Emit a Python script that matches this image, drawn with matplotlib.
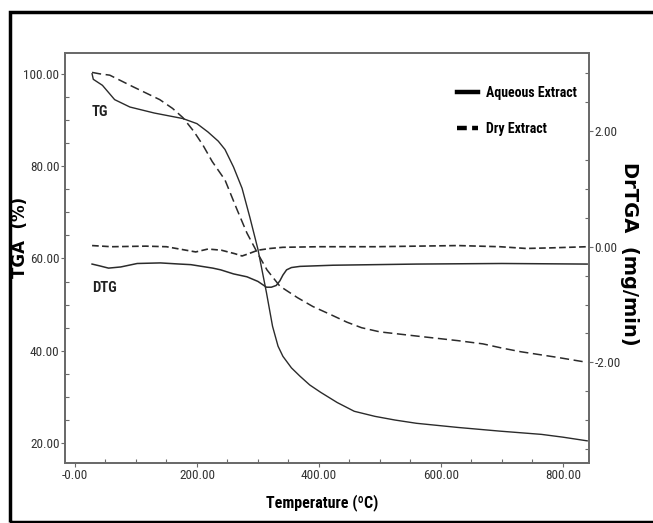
import matplotlib
matplotlib.use('Agg')
import matplotlib.pyplot as plt
import matplotlib.font_manager as fm
from matplotlib.lines import Line2D
from matplotlib.patches import Rectangle
from matplotlib.ticker import MultipleLocator

# TG curves (left axis, %)
tg_aq_temp = [28, 30, 45, 65, 90, 130, 177, 200, 218, 235, 246, 260, 274, 287, 300,
              314, 324, 333, 341, 355, 369, 385, 403, 430, 458, 492, 525, 560, 628,
              697, 765, 800, 840]
tg_aq_mass = [100.0, 98.8, 97.5, 94.4, 92.8, 91.5, 90.3, 89.2, 87.4, 85.4, 83.6, 79.8,
              75.2, 68.8, 62.0, 52.6, 45.3, 41.0, 38.8, 36.3, 34.5, 32.6, 31.0, 28.8,
              26.9, 25.8, 25.0, 24.3, 23.4, 22.6, 21.9, 21.3, 20.5]

tg_dry_temp = [28, 40, 57, 95, 139, 160, 177, 195, 210, 225, 246, 266, 282, 292, 300, 315,
               336, 365, 390, 420, 446, 470, 500, 560, 628, 669, 700, 731, 790, 840]
tg_dry_mass = [100.3, 100.0, 99.7, 97.2, 94.4, 92.5, 90.5, 87.5, 84.5, 81.0, 77.0, 70.5,
               65.5, 63.0, 61.0, 57.5, 54.0, 51.5, 49.6, 47.8, 46.2, 45.0, 44.1, 43.2, 42.2,
               41.5, 40.6, 39.8, 38.6, 37.5]

# DTG curves (right axis, mg/min)
dtg_aq_temp = [28, 40, 55, 75, 102, 140, 172, 190, 226, 239, 260, 282, 300, 314, 322, 330,
               336, 341, 347, 355, 369, 423, 560, 700, 840]
dtg_aq_rate = [-0.30, -0.33, -0.37, -0.35, -0.29, -0.28, -0.30, -0.31, -0.37, -0.40, -0.47,
               -0.52, -0.60, -0.70, -0.70, -0.67, -0.59, -0.49, -0.40, -0.36, -0.34, -0.32,
               -0.30, -0.29, -0.30]

dtg_dry_temp = [28, 60, 116, 150, 198, 218, 240, 262, 274, 285, 300, 320, 341, 400, 492,
                560, 628, 697, 740, 780, 840]
dtg_dry_rate = [0.02, 0.0, 0.01, 0.0, -0.09, -0.04, -0.06, -0.12, -0.16, -0.12, -0.06, -0.03,
                -0.01, 0.0, 0.0, 0.01, 0.02, 0.0, -0.03, -0.02, 0.0]

x_ticks = [0, 200, 400, 600, 800]
x_labels = ['-0.00', '200.00', '400.00', '600.00', '800.00']
left_ticks = [20, 40, 60, 80, 100]
left_labels = ['20.00', '40.00', '60.00', '80.00', '100.00']
right_ticks = [-2, 0, 2]
right_labels = ['-2.00', '0.00', '2.00']


# pick a narrow font if one is installed, else fall back to Liberation Sans
def narrow_font():
    fonts = fm.fontManager.ttflist
    for want in ['Liberation Sans Narrow', 'Roboto Condensed', 'Open Sans Condensed',
                 'Noto Sans Condensed']:
        if any(f.name == want for f in fonts):
            return {'family': want}, 1.0
    for f in fonts:
        if f.name in ('DejaVu Sans', 'Noto Sans', 'Open Sans', 'Roboto') and 'ondensed' in str(f.stretch):
            return {'family': f.name, 'stretch': 'condensed'}, 1.0
    return {'family': 'Liberation Sans'}, 0.92


NARROW, SC = narrow_font()
LINE_C = '#2b2b2b'
SPINE_C = '#6a6a6a'

fig = plt.figure(figsize=(6.53, 5.23), dpi=100)
ax = fig.add_axes([65 / 653, 60 / 523, 524 / 653, 410 / 523])
ax2 = ax.twinx()

ax.plot(tg_aq_temp, tg_aq_mass, color=LINE_C, lw=1.0)
ax.plot(tg_dry_temp, tg_dry_mass, color=LINE_C, lw=1.1, linestyle=(0, (6, 3)))
ax2.plot(dtg_aq_temp, dtg_aq_rate, color=LINE_C, lw=1.1)
ax2.plot(dtg_dry_temp, dtg_dry_rate, color=LINE_C, lw=1.2, linestyle=(0, (4, 2)))

ax.set_xlim(-16.4, 843)
ax.set_ylim(15.7, 104.5)
ax2.set_ylim(-3.74, 3.35)

tick_font = dict(NARROW, size=9.5 * SC)
ax.set_xticks(x_ticks)
ax.set_xticklabels(x_labels, fontdict=tick_font, color='#333333')
ax.set_yticks(left_ticks)
ax.set_yticklabels(left_labels, fontdict=tick_font, color='#333333')
ax2.set_yticks(right_ticks)
ax2.set_yticklabels(right_labels, fontdict=tick_font, color='#333333')
ax.xaxis.set_minor_locator(MultipleLocator(50))
ax.yaxis.set_minor_locator(MultipleLocator(5))
ax2.yaxis.set_minor_locator(MultipleLocator(0.5))

for a in (ax, ax2):
    a.tick_params(which='major', direction='out', length=3, width=0.8, color=SPINE_C, pad=1)
    a.tick_params(which='minor', direction='in', length=3, width=0.8, color=SPINE_C)
    for s in a.spines.values():
        s.set_color(SPINE_C)
        s.set_linewidth(1.3)

ax.set_ylabel('TGA  (%)', family='DejaVu Sans', fontweight='bold', fontsize=12, va='center')
ax.yaxis.set_label_coords(-0.086, 0.55)
ax2.set_ylabel('DrTGA  (mg/min)', family='DejaVu Sans', fontweight='bold', fontsize=14,
               rotation=270, va='center')
ax2.yaxis.set_label_coords(1.078, 0.51)
ax.set_xlabel('Temperature (\u00baC)', fontdict=dict(NARROW, size=11.5 * SC, weight='bold'))
ax.xaxis.set_label_coords(0.49, -0.075)

label_font = dict(NARROW, size=10.5 * SC, weight='bold')
ax.text(28, 91.8, 'TG', fontdict=label_font, color='#222222', va='center')
ax2.text(28, -0.71, 'DTG', fontdict=label_font, color='#222222', va='center')

handles = [Line2D([], [], color='black', lw=3.2),
           Line2D([], [], color='black', lw=3.2, linestyle=(0, (2.2, 1.2)))]
ax.legend(handles, ['Aqueous Extract', 'Dry Extract'], loc='upper left',
          bbox_to_anchor=(0.725, 0.95), frameon=False, handlelength=1.45,
          handletextpad=0.58, labelspacing=1.6,
          prop=dict(NARROW, size=10 * SC, weight='bold'))

# outer frame of the picture
fig.patches.append(Rectangle((9.5 / 653, 1.5 / 523), 660 / 653, 510 / 523,
                             transform=fig.transFigure, fill=False, edgecolor='black',
                             lw=2.5, clip_on=False))

fig.savefig('out.png', dpi=100)
